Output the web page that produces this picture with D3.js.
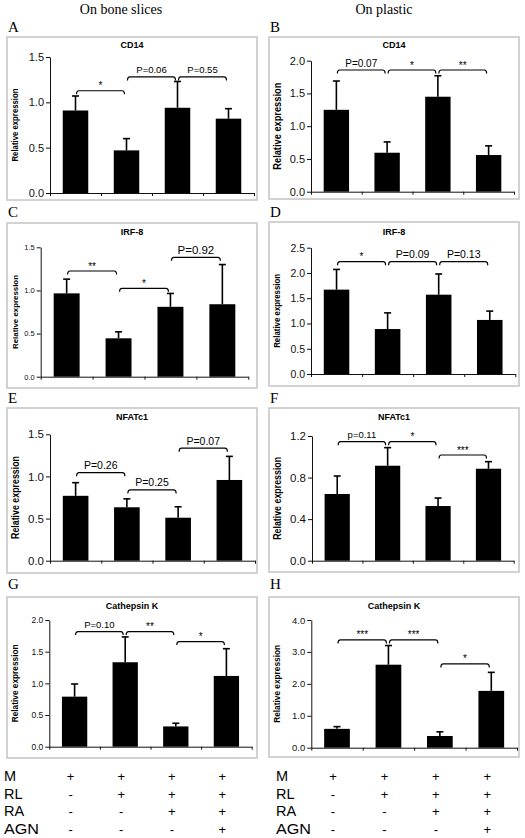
<!DOCTYPE html>
<html>
<head>
<meta charset="utf-8">
<script src="https://cdn.jsdelivr.net/npm/d3@7"></script>
<style>
  html, body { margin: 0; padding: 0; background: #fff; }
  svg { display: block; }
</style>
</head>
<body>
<svg id="chart" width="525" height="838"></svg>
<script>
// ---------------- DATA ----------------
const groups = ["M", "M+RL", "M+RL+RA", "M+RL+RA+AGN"];
const conditionRows = ["M", "RL", "RA", "AGN"];
const conditionSigns = [
  ["+", "+", "+", "+"],
  ["-", "+", "+", "+"],
  ["-", "-", "+", "+"],
  ["-", "-", "-", "+"]
];
const columnTitles = ["On bone slices", "On plastic"];
const panelLetters = ["A", "B", "C", "D", "E", "F", "G", "H"];
const geneNames = ["CD14", "CD14", "IRF-8", "IRF-8", "NFATc1", "NFATc1", "Cathepsin K", "Cathepsin K"];

const cd14BoneMean = [0.91, 0.47, 0.94, 0.82];
const cd14BoneErr = [0.16, 0.13, 0.29, 0.11];
const cd14PlasticMean = [1.25, 0.595, 1.45, 0.56];
const cd14PlasticErr = [0.44, 0.165, 0.32, 0.14];
const irf8BoneMean = [0.966, 0.445, 0.81, 0.84];
const irf8BoneErr = [0.165, 0.075, 0.155, 0.46];
const irf8PlasticMean = [1.67, 0.89, 1.57, 1.07];
const irf8PlasticErr = [0.40, 0.32, 0.41, 0.175];
const nfatc1BoneMean = [0.77, 0.634, 0.51, 0.958];
const nfatc1BoneErr = [0.156, 0.10, 0.13, 0.28];
const nfatc1PlasticMean = [0.642, 0.914, 0.526, 0.885];
const nfatc1PlasticErr = [0.173, 0.174, 0.077, 0.068];
const ctskBoneMean = [0.79, 1.333, 0.32, 1.117];
const ctskBoneErr = [0.20, 0.40, 0.05, 0.43];
const ctskPlasticMean = [0.59, 2.6, 0.367, 1.78];
const ctskPlasticErr = [0.07, 0.60, 0.13, 0.58];

// y-axis tick values per panel
const ticksA = [0, 0.5, 1.0, 1.5];
const ticksB = [0, 0.5, 1.0, 1.5, 2.0];
const ticksC = [0, 0.5, 1.0, 1.5];
const ticksD = [0, 0.5, 1.0, 1.5, 2.0, 2.5];
const ticksE = [0, 0.5, 1.0, 1.5];
const ticksF = [0, 0.4, 0.8, 1.2];
const ticksG = [0, 0.5, 1.0, 1.5, 2.0];
const ticksH = [0, 1.0, 2.0, 3.0, 4.0];

// significance comparisons: [from group index, to group index, label, bracket level (data units)]
const compA = [[0, 1, "*", 1.128], [1, 2, "P=0.06", 1.28], [2, 3, "P=0.55", 1.28]];
const compB = [[0, 1, "P=0.07", 1.858], [1, 2, "*", 1.858], [2, 3, "**", 1.858]];
const compC = [[0, 1, "**", 1.225], [1, 2, "*", 1.024], [2, 3, "P=0.92", 1.384]];
const compD = [[0, 1, "*", 2.224], [1, 2, "P=0.09", 2.224], [2, 3, "P=0.13", 2.224]];
const compE = [[0, 1, "P=0.26", 1.045], [1, 2, "P=0.25", 0.84], [2, 3, "P=0.07", 1.335]];
const compF = [[0, 1, "p=0.11", 1.145], [1, 2, "*", 1.145], [2, 3, "***", 1.017]];
const compG = [[0, 1, "P=0.10", 1.817], [1, 2, "**", 1.817], [2, 3, "*", 1.659]];
const compH = [[0, 1, "***", 3.376], [1, 2, "***", 3.376], [2, 3, "*", 2.624]];

// ---------------- LAYOUT ----------------
const panels = [
  { mean: cd14BoneMean, err: cd14BoneErr, ticks: ticksA, comp: compA,
    box: [7, 37, 250, 163], x: [50, 254], y: [193, 57], max: 1.5,
    titleY: 48, tickFs: 11, labFs: 9.5, starFs: 10, ylab: { x: 15, len: 73, fs: 9 } },
  { mean: cd14PlasticMean, err: cd14PlasticErr, ticks: ticksB, comp: compB,
    box: [269, 37, 250, 162], x: [311, 514], y: [191.7, 60.7], max: 2.0,
    titleY: 48, tickFs: 11, labFs: 10, starFs: 10, ylab: { x: 277, len: 87, fs: 10 } },
  { mean: irf8BoneMean, err: irf8BoneErr, ticks: ticksC, comp: compC,
    box: [7, 223, 250, 165], x: [40.7, 248.3], y: [376.7, 247.3], max: 1.5,
    titleY: 235, tickFs: 7.5, labFs: 11.5, starFs: 10, ylab: { x: 15.5, len: 74, fs: 8 } },
  { mean: irf8PlasticMean, err: irf8PlasticErr, ticks: ticksD, comp: compD,
    box: [269, 222, 250, 164], x: [311, 515.3], y: [374, 247.7], max: 2.5,
    titleY: 235, tickFs: 10.5, labFs: 10.5, starFs: 10, ylab: { x: 277, len: 74, fs: 8.5 } },
  { mean: nfatc1BoneMean, err: nfatc1BoneErr, ticks: ticksE, comp: compE,
    box: [7, 408, 250, 165], x: [50, 255], y: [560.7, 434.3], max: 1.5,
    titleY: 420, tickFs: 11.5, labFs: 10.5, starFs: 10, ylab: { x: 15, len: 83, fs: 10 } },
  { mean: nfatc1PlasticMean, err: nfatc1PlasticErr, ticks: ticksF, comp: compF,
    box: [269, 408, 250, 164], x: [312, 513.7], y: [560.7, 436], max: 1.2,
    titleY: 420, tickFs: 11.5, labFs: 9.5, starFs: 10, ylab: { x: 277, len: 83, fs: 10 } },
  { mean: ctskBoneMean, err: ctskBoneErr, ticks: ticksG, comp: compG,
    box: [7, 597, 250, 161], x: [49.3, 251.7], y: [746.7, 620], max: 2.0,
    titleY: 608.5, tickFs: 8.5, labFs: 9.5, starFs: 10, ylab: { x: 15, len: 78, fs: 9 } },
  { mean: ctskPlasticMean, err: ctskPlasticErr, ticks: ticksH, comp: compH,
    box: [269, 597, 250, 160], x: [311.3, 517], y: [747.7, 620], max: 4.0,
    titleY: 608.5, tickFs: 9.5, labFs: 9.5, starFs: 10, ylab: { x: 277, len: 78, fs: 9 } }
];
const letterPos = [[8, 32], [270, 32], [8, 217], [270, 217], [8, 403], [270, 403], [8, 589], [270, 589]];

const SANS = "'Liberation Sans', Arial, sans-serif";
const SERIF = "'Liberation Serif', 'Times New Roman', serif";

const svg = d3.select("#chart");

// column headers
svg.append("text").attr("x", 121).attr("y", 14).attr("text-anchor", "middle")
  .attr("font-family", SERIF).attr("font-size", 14).text(columnTitles[0]);
svg.append("text").attr("x", 384).attr("y", 14).attr("text-anchor", "middle")
  .attr("font-family", SERIF).attr("font-size", 14).text(columnTitles[1]);

panels.forEach((p, i) => {
  const g = svg.append("g");
  // panel letter
  svg.append("text").attr("x", letterPos[i][0]).attr("y", letterPos[i][1])
    .attr("font-family", SERIF).attr("font-size", 15).text(panelLetters[i]);
  // frame
  g.append("rect").attr("x", p.box[0]).attr("y", p.box[1]).attr("width", p.box[2]).attr("height", p.box[3])
    .attr("fill", "none").attr("stroke", "#c4c4c4").attr("stroke-width", 1.5);
  // title
  g.append("text").attr("x", p.box[0] + p.box[2] / 2).attr("y", p.titleY).attr("text-anchor", "middle")
    .attr("font-family", SANS).attr("font-weight", "bold").attr("font-size", 9).text(geneNames[i]);

  const y = d3.scaleLinear().domain([0, p.max]).range(p.y);
  const xb = d3.scaleBand().domain(groups).range(p.x).paddingInner(0.5).paddingOuter(0.25);
  const xl = d3.scaleLinear().domain([0, 4]).range(p.x);

  // y axis
  const ya = g.append("g").attr("transform", `translate(${p.x[0]},0)`)
    .call(d3.axisLeft(y).tickValues(p.ticks).tickFormat(d3.format(".1f")).tickSize(4).tickSizeOuter(0));
  ya.selectAll("text").attr("font-family", SANS).attr("font-size", p.tickFs).attr("fill", "#111").attr("x", -6);
  ya.selectAll("line, path").attr("stroke", "#111").attr("stroke-width", 1);

  // x axis
  const xa = g.append("g").attr("transform", `translate(0,${p.y[0]})`)
    .call(d3.axisBottom(xl).tickValues([0, 1, 2, 3, 4]).tickFormat("").tickSize(3).tickSizeOuter(0));
  xa.selectAll("line, path").attr("stroke", "#111").attr("stroke-width", 1);

  // y label
  const cy = (p.y[0] + p.y[1]) / 2;
  g.append("text").attr("transform", `translate(${p.ylab.x},${cy}) rotate(-90)`)
    .attr("text-anchor", "middle").attr("dy", "0.35em")
    .attr("font-family", SANS).attr("font-weight", "bold").attr("font-size", p.ylab.fs)
    .attr("textLength", p.ylab.len).attr("lengthAdjust", "spacingAndGlyphs")
    .text("Relative expression");

  const rows = groups.map((gname, k) => ({ g: gname, m: p.mean[k], e: p.err[k] }));
  // error bars (upper)
  const eb = g.selectAll(".eb").data(rows).enter().append("g");
  eb.append("line")
    .attr("x1", d => xb(d.g) + xb.bandwidth() / 2).attr("x2", d => xb(d.g) + xb.bandwidth() / 2)
    .attr("y1", d => y(d.m)).attr("y2", d => y(d.m + d.e))
    .attr("stroke", "#000").attr("stroke-width", 1.6);
  eb.append("line")
    .attr("x1", d => xb(d.g) + xb.bandwidth() / 2 - 3.5).attr("x2", d => xb(d.g) + xb.bandwidth() / 2 + 3.5)
    .attr("y1", d => y(d.m + d.e)).attr("y2", d => y(d.m + d.e))
    .attr("stroke", "#000").attr("stroke-width", 1.6);
  // bars
  g.selectAll(".bar").data(rows).enter().append("rect")
    .attr("x", d => xb(d.g)).attr("width", xb.bandwidth())
    .attr("y", d => y(d.m)).attr("height", d => y(0) - y(d.m))
    .attr("fill", "#000");

  // brackets
  p.comp.forEach(c => {
    const x1 = xb(groups[c[0]]) + xb.bandwidth() / 2 + 1;
    const x2 = xb(groups[c[1]]) + xb.bandwidth() / 2 - 2;
    const yy = y(c[3]);
    g.append("path")
      .attr("d", `M${x1},${yy + 3.5} Q${x1},${yy} ${x1 + 2.5},${yy} L${x2 - 2.5},${yy} Q${x2},${yy} ${x2},${yy + 3.5}`)
      .attr("fill", "none").attr("stroke", "#000").attr("stroke-width", 1.2);
    const isStar = c[2].indexOf("*") >= 0;
    g.append("text").attr("x", (x1 + x2) / 2).attr("y", isStar ? yy - 1.5 : yy - 3.5)
      .attr("text-anchor", "middle").attr("font-family", SANS)
      .attr("font-size", isStar ? p.starFs : p.labFs).text(c[2]);
  });
});

// condition table under G and H
[6, 7].forEach((pi, col) => {
  const p = panels[pi];
  const xb = d3.scaleBand().domain(groups).range(p.x).paddingInner(0.5).paddingOuter(0.25);
  const lx = col === 0 ? 4 : 276;
  conditionRows.forEach((r, ri) => {
    const by = 781 + ri * 17.5;
    const t = svg.append("text").attr("x", lx).attr("y", by).attr("font-family", SANS).attr("font-size", 14.5).text(r);
    if (r === "AGN") t.attr("textLength", 35).attr("lengthAdjust", "spacingAndGlyphs");
    conditionSigns[ri].forEach((s, k) => {
      svg.append("text").attr("x", xb(groups[k]) + xb.bandwidth() / 2 - 4).attr("y", by)
        .attr("text-anchor", "middle").attr("font-family", SANS).attr("font-size", 13).text(s);
    });
  });
});
</script>
</body>
</html>
